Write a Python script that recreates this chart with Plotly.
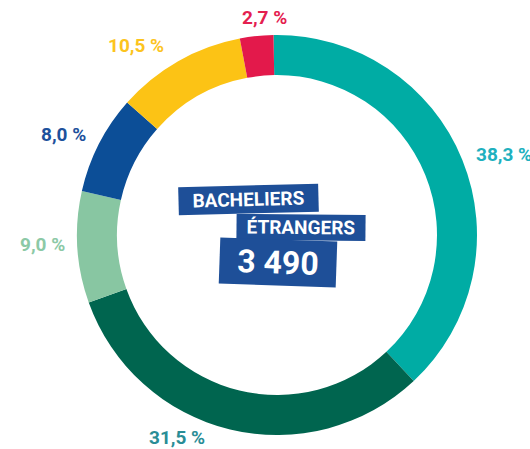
import plotly.graph_objects as go

W, H = 530, 449

categories = ["A", "B", "C", "D", "E", "F"]
values = [38.3, 31.5, 9.0, 8.0, 10.5, 2.7]
value_labels = ["38,3 %", "31,5 %", "9,0 %", "8,0 %", "10,5 %", "2,7 %"]
slice_colors = ["#00ACA4", "#00654F", "#88C6A2", "#0C4E97", "#FCC315", "#E3194B"]
label_colors = ["#20B0BE", "#2A8D96", "#8CC9A6", "#1D519C", "#FCC41E", "#E4204F"]
# label centres in pixels (x, y, anchor)
label_pos = [(474, 154, "left"), (177, 437, "center"), (42, 245, "center"),
             (63, 134, "center"), (136, 46, "center"), (264, 18, "center")]

cx, cy, r = 277, 235, 200

fig = go.Figure(go.Pie(
    labels=categories, values=values, sort=False, direction="clockwise",
    rotation=-1, hole=0.8, textinfo="none", hoverinfo="skip",
    marker=dict(colors=slice_colors, line=dict(width=0)),
    domain=dict(x=[(cx - r) / W, (cx + r) / W], y=[(H - cy - r) / H, (H - cy + r) / H]),
    showlegend=False,
))

ann = []
for txt, col, (x, y, anc) in zip(value_labels, label_colors, label_pos):
    ann.append(dict(x=x / W, y=1 - y / H, xref="paper", yref="paper", text="<b>" + txt + "</b>",
                    showarrow=False, xanchor=anc, yanchor="middle",
                    font=dict(family="Roboto", size=19, color=col)))

boxes = [("BACHELIERS", 248.5, 199.5, 139, 27, 19, -1.5),
         ("ÉTRANGERS", 301, 227.5, 128, 25, 19, 0.5),
         ("3 490", 278, 262.5, 116, 45, 32, 2)]
for txt, x, y, w, h, fs, ang in boxes:
    ann.append(dict(x=x / W, y=1 - y / H, xref="paper", yref="paper", text="<b>" + txt + "</b>",
                    showarrow=False, xanchor="center", yanchor="middle", width=w, height=h,
                    bgcolor="#1E4F98", borderpad=0, textangle=ang,
                    font=dict(family="Roboto", size=fs, color="white")))

fig.update_layout(width=W, height=H, margin=dict(l=0, r=0, t=0, b=0),
                  paper_bgcolor="white", plot_bgcolor="white", annotations=ann)
fig.write_html("out.html", config={"displayModeBar": False},
               post_script="document.body.style.margin='0';document.body.style.padding='0';")
